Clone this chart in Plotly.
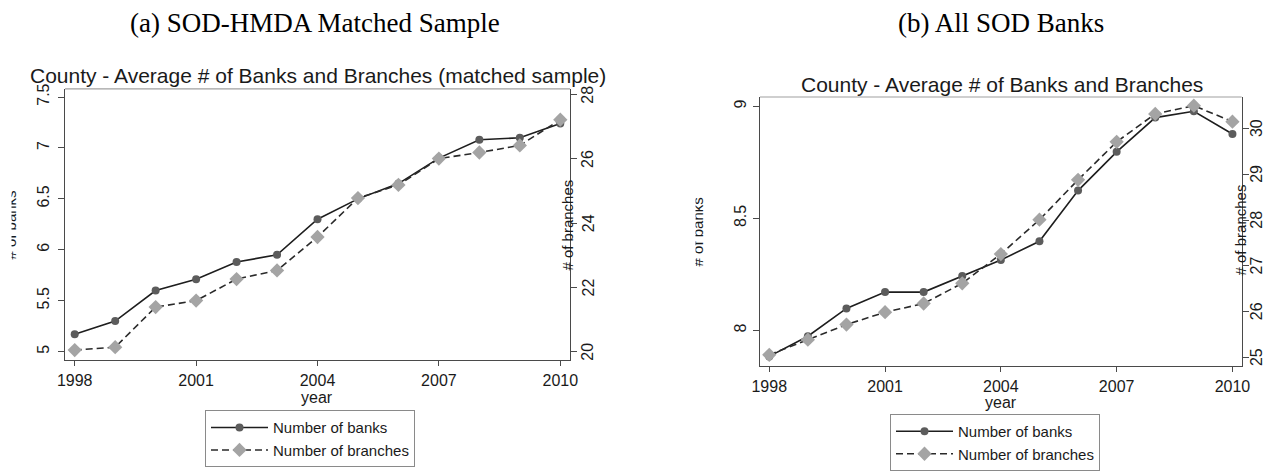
import plotly.graph_objects as go

# ---------------- data ----------------
years = [1998, 1999, 2000, 2001, 2002, 2003, 2004, 2005, 2006, 2007, 2008, 2009, 2010]
x_ticks = [1998, 2001, 2004, 2007, 2010]

matched_banks = [5.17, 5.30, 5.60, 5.71, 5.88, 5.95, 6.30, 6.50, 6.65, 6.90, 7.08, 7.10, 7.24]
matched_branches = [20.05, 20.14, 21.39, 21.59, 22.26, 22.53, 23.57, 24.78, 25.19, 26.01, 26.20, 26.42, 27.22]

all_banks = [7.884, 7.974, 8.098, 8.171, 8.171, 8.243, 8.314, 8.398, 8.624, 8.797, 8.950, 8.978, 8.877]
all_branches = [25.06, 25.39, 25.72, 25.99, 26.18, 26.62, 27.26, 28.01, 28.88, 29.71, 30.32, 30.50, 30.15]

left_bank_ticks = [5, 5.5, 6, 6.5, 7, 7.5]
left_branch_ticks = [20, 22, 24, 26, 28]
right_bank_ticks = [8, 8.5, 9]
right_branch_ticks = [25, 26, 27, 28, 29, 30]

panel_titles = ["(a) SOD-HMDA Matched Sample", "(b) All SOD Banks"]
chart_titles = ["County - Average # of Banks and Branches (matched sample)",
                "County - Average # of Banks and Branches"]
series_names = ["Number of banks", "Number of branches"]

# ---------------- geometry helpers ----------------
W, H = 1265, 471
def px(x):
    return x / W
def py(y):
    return 1 - y / H

SANS = "Liberation Sans, Arial, sans-serif"
SERIF = "Liberation Serif, Times New Roman, serif"
AXC = "#4a4a4a"
TXT = "#1a1a1a"

fig = go.Figure()

bank_line = dict(color="#1e1e1e", width=1.6)
bank_marker = dict(symbol="circle", size=8, color="#5c5c5c")
branch_line = dict(color="#2a2a2a", width=1.6, dash="7px,4px")
branch_marker = dict(symbol="diamond", size=11, color="#a4a4a4")

# left panel
fig.add_trace(go.Scatter(x=years, y=matched_banks, mode="lines+markers", name=series_names[0],
                         line=bank_line, marker=bank_marker, xaxis="x", yaxis="y", legend="legend"))
fig.add_trace(go.Scatter(x=years, y=matched_branches, mode="lines+markers", name=series_names[1],
                         line=branch_line, marker=branch_marker, xaxis="x", yaxis="y2", legend="legend"))
# right panel
fig.add_trace(go.Scatter(x=years, y=all_banks, mode="lines+markers", name=series_names[0],
                         line=bank_line, marker=bank_marker, xaxis="x2", yaxis="y3", legend="legend2"))
fig.add_trace(go.Scatter(x=years, y=all_branches, mode="lines+markers", name=series_names[1],
                         line=branch_line, marker=branch_marker, xaxis="x2", yaxis="y4", legend="legend2"))

tickfont = dict(family=SANS, size=16, color=TXT)

def xax(domain, anchor):
    return dict(domain=domain, anchor=anchor, range=[1997.76, 2010.24], tickvals=x_ticks,
                showgrid=False, zeroline=False, showline=True, linecolor=AXC, linewidth=1.2,
                ticks="outside", ticklen=5, tickcolor=AXC, tickfont=tickfont, mirror=False,
                automargin=False)

def yax(domain, anchor, rng, tv, side="left", overlaying=None, standoff=0, fsize=16, tlen=6,
        labels=True):
    d = dict(domain=domain, anchor=anchor, range=rng, tickvals=tv, side=side,
             showgrid=False, zeroline=False, showline=True, linecolor=AXC, linewidth=1.2,
             ticks="outside", ticklen=tlen, tickcolor=AXC, showticklabels=labels,
             tickfont=dict(family=SANS, size=fsize, color=TXT), tickangle=-90,
             ticklabelstandoff=standoff, automargin=False)
    if overlaying:
        d["overlaying"] = overlaying
    return d

L_x = [px(65), px(570)]
L_y = [py(369), py(91)]
R_x = [px(760), px(1241.7)]
R_y = [py(375), py(99.3)]

fig.update_layout(
    width=W, height=H,
    margin=dict(l=0, r=0, t=0, b=0),
    paper_bgcolor="white", plot_bgcolor="white",
    showlegend=True,
    xaxis=xax(L_x, "y"),
    yaxis=yax(L_y, "x", [4.914, 7.58], left_bank_ticks, standoff=3),
    yaxis2=yax(L_y, "x", [19.73, 28.18], left_branch_ticks, side="right", overlaying="y",
               labels=False),
    xaxis2=xax(R_x, "y3"),
    yaxis3=yax(R_y, "x2", [7.84, 9.042], right_bank_ticks, standoff=1),
    yaxis4=yax(R_y, "x2", [24.81, 30.69], right_branch_ticks, side="right", overlaying="y3",
               labels=False),
    legend=dict(x=px(205), y=py(420), xanchor="left", yanchor="top", bgcolor="white",
                bordercolor="#8a8a8a", borderwidth=1, font=dict(family=SANS, size=15, color=TXT),
                itemwidth=57, tracegroupgap=0),
    legend2=dict(x=px(890), y=py(424), xanchor="left", yanchor="top", bgcolor="white",
                 bordercolor="#8a8a8a", borderwidth=1, font=dict(family=SANS, size=15, color=TXT),
                 itemwidth=57, tracegroupgap=0),
)

# top border of plot regions (lighter)
for xd, yd in [(L_x, L_y), (R_x, R_y)]:
    fig.add_shape(type="line", xref="paper", yref="paper", x0=xd[0], x1=xd[1], y0=yd[1], y1=yd[1],
                  line=dict(color="#a0a0a0", width=1.2))

ann = []
# right-axis tick labels placed on the secondary axes' own scales
for v in left_branch_ticks:
    ann.append(dict(text=str(v), x=px(588), y=v, yref="y2", textangle=-90,
                    font=dict(family=SANS, size=16, color=TXT)))
for v in right_branch_ticks:
    ann.append(dict(text=str(v), x=px(1256.5), y=v, yref="y4", textangle=-90,
                    font=dict(family=SANS, size=16, color=TXT)))
# panel captions
ann.append(dict(text=panel_titles[0], x=px(315), y=py(24), font=dict(family=SERIF, size=27, color="black")))
ann.append(dict(text=panel_titles[1], x=px(1001), y=py(24), font=dict(family=SERIF, size=27, color="black")))
# chart titles
ann.append(dict(text=chart_titles[0], x=px(318), y=py(77), font=dict(family=SANS, size=21, color=TXT)))
ann.append(dict(text=chart_titles[1], x=px(1002), y=py(87), font=dict(family=SANS, size=21, color=TXT)))
# x titles
ann.append(dict(text="year", x=px(317), y=py(407), font=dict(family=SANS, size=16, color=TXT)))
ann.append(dict(text="year", x=px(1001), y=py(412), font=dict(family=SANS, size=16, color=TXT)))
# right y titles
ann.append(dict(text="# of branches", x=px(568), y=py(231), textangle=-90, font=dict(family=SANS, size=15, color=TXT)))
ann.append(dict(text="# of branches", x=px(1240), y=py(236), textangle=-90, font=dict(family=SANS, size=15, color=TXT)))
# left y titles (partly cut off in the reference)
ann.append(dict(text="# of banks", x=px(11), y=py(231), textangle=-90, font=dict(family=SANS, size=15, color=TXT)))
ann.append(dict(text="# of banks", x=px(697), y=py(238), textangle=-90, font=dict(family=SANS, size=15, color=TXT)))
# white masks emulating the cropped edge of the source images
ann.append(dict(text=" ", x=px(0), y=py(231), xanchor="left", width=8, height=110, bgcolor="white",
                font=dict(size=2)))
ann.append(dict(text=" ", x=px(683), y=py(238), xanchor="left", width=9, height=110, bgcolor="white",
                font=dict(size=2)))

for a in ann:
    a.setdefault("xref", "paper")
    a.setdefault("yref", "paper")
    a.setdefault("showarrow", False)
    a.setdefault("xanchor", "center")
    a.setdefault("yanchor", "middle")
    fig.add_annotation(**a)

# remove the default page margin so the 1265x471 figure fills the window exactly; hide the modebar
fig.write_html("out.html",
               config={"displayModeBar": False},
               post_script="document.body.style.margin='0px';document.body.style.overflow='hidden';")
